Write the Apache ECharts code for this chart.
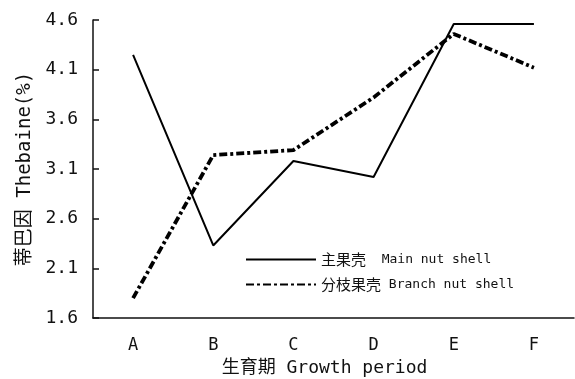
<!DOCTYPE html>
<html>
<head>
<meta charset="utf-8">
<script src="https://cdn.jsdelivr.net/npm/echarts@6/dist/echarts.min.js"></script>
<style>
  html, body { margin: 0; padding: 0; background: #fff; }
  #chart { width: 575px; height: 379px; }
</style>
</head>
<body>
<div id="chart"></div>
<script>
// Growth stages on the x axis
const categories = ['A', 'B', 'C', 'D', 'E', 'F'];
// Thebaine content (%) in the main nut shell
const mainShell = [4.25, 2.33, 3.18, 3.02, 4.56, 4.56];
// Thebaine content (%) in the branch nut shell
const branchShell = [1.80, 3.24, 3.29, 3.82, 4.46, 4.12];
// Series labels: Chinese part and English part
const namesCn = ['主果壳', '分枝果壳'];
const namesEn = ['  Main nut shell', ' Branch nut shell'];
const seriesNames = namesCn.map((c, i) => c + namesEn[i]);

const FONT = '"DejaVu Sans Mono", "Noto Sans CJK SC", monospace';
const CJK = '"Noto Sans CJK SC"';

const chart = echarts.init(document.getElementById('chart'), null, { renderer: 'canvas' });
chart.setOption({
  animation: false,
  backgroundColor: '#fff',
  grid: { left: 93, right: 1, top: 20, bottom: 61, containLabel: false, outerBoundsMode: 'none' },
  legend: {
    orient: 'vertical',
    left: 240,
    top: 247,
    itemWidth: 70,
    itemHeight: 12,
    itemGap: 10,
    itemStyle: { opacity: 0 },
    formatter: name => {
      const i = seriesNames.indexOf(name);
      return '{c|' + namesCn[i] + '}{e|' + namesEn[i] + '}';
    },
    textStyle: {
      fontFamily: FONT, fontSize: 13, color: '#111',
      rich: {
        c: { fontFamily: CJK, fontSize: 15, color: '#111' },
        e: { fontFamily: FONT, fontSize: 13, color: '#111' }
      }
    },
    data: seriesNames
  },
  xAxis: {
    type: 'category',
    data: categories,
    boundaryGap: true,
    name: '生育期 Growth period',
    nameLocation: 'middle',
    nameGap: 41,
    nameTextStyle: { fontFamily: FONT, fontSize: 18, color: '#111', padding: [0, 18, 0, 0] },
    axisLine: { lineStyle: { color: '#111', width: 1.5 } },
    axisTick: { inside: true, length: 6, lineStyle: { color: '#111', width: 1.5 } },
    axisLabel: { margin: 19, fontFamily: FONT, fontSize: 17, color: '#111' },
    splitLine: { show: false }
  },
  yAxis: {
    type: 'value',
    min: 1.6,
    max: 4.6,
    interval: 0.5,
    name: '蒂巴因 Thebaine(%)',
    nameLocation: 'middle',
    nameGap: 48,
    nameTextStyle: { fontFamily: FONT, fontSize: 19, color: '#111' },
    axisLine: { show: true, lineStyle: { color: '#111', width: 1.5 } },
    axisTick: { show: true, inside: true, length: 6, lineStyle: { color: '#111', width: 1.5 } },
    axisLabel: {
      margin: 15, fontFamily: FONT, fontSize: 18, color: '#111',
      formatter: v => v.toFixed(1)
    },
    splitLine: { show: false }
  },
  series: [
    {
      name: seriesNames[0],
      type: 'line',
      data: mainShell,
      symbol: 'none',
      lineStyle: { color: '#000', width: 2, type: 'solid' },
      itemStyle: { color: '#000' }
    },
    {
      name: seriesNames[1],
      type: 'line',
      data: branchShell,
      symbol: 'none',
      lineStyle: { color: '#000', width: 3.8, type: [8, 3, 3, 3] },
      itemStyle: { color: '#000' }
    }
  ]
});
</script>
</body>
</html>
